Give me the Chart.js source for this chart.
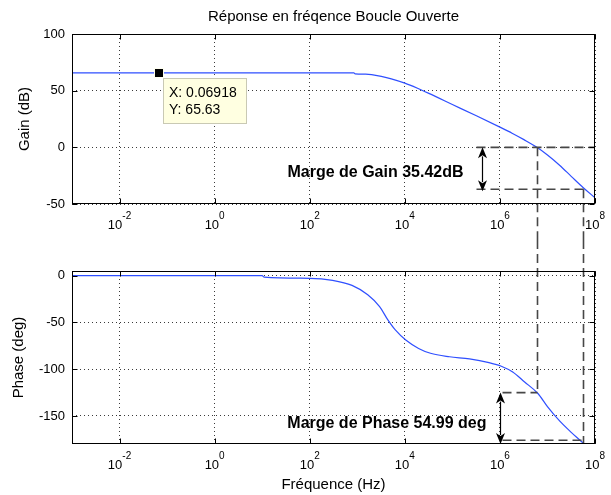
<!DOCTYPE html>
<html><head><meta charset="utf-8">
<script src="https://cdn.jsdelivr.net/npm/chart.js@4/dist/chart.umd.min.js"></script>
<style>
html,body{margin:0;padding:0;background:#fff;}
#wrap{position:relative;width:611px;height:495px;overflow:hidden;background:#fff;}
canvas{position:absolute;left:0;}
#cTop{top:0;} #cBot{top:240px;}
</style></head><body>
<div id="wrap"><canvas id="cTop" width="611" height="240"></canvas><canvas id="cBot" width="611" height="255"></canvas></div>
<script>
// ---- data ----
const gainFreq  = [1e-3, 1e-2, 1e-1, 1, 10, 100, 850, 900, 1500, 2000, 3200, 5200, 1e4, 1.8e4, 3.2e4, 1e5, 3.2e5, 1e6, 1.8e6, 3.2e6, 6e6, 1e7, 1.8e7, 3.2e7, 5.6e7, 1e8];
const gainDb    = [65.63, 65.63, 65.63, 65.63, 65.63, 65.63, 65.63, 64.9, 64.6, 64.2, 62.6, 60.4, 56.6, 52.3, 47.6, 37.8, 27.8, 17.8, 12.5, 6.8, 0, -6.8, -15.8, -25.8, -35.42, -44.5];
const phaseFreq = [1e-3, 1e-1, 10, 11, 100, 302, 776, 1660, 2950, 4365, 6310, 10470, 19500, 34700, 87100, 229000, 589000, 1.07e6, 1.86e6, 3.31e6, 6.3e6, 1e7, 1.78e7, 3.16e7, 5.89e7, 1e8];
const phaseDeg  = [0, 0, 0, -1.6, -2.8, -5, -10.4, -20.4, -33, -47, -58, -68.8, -77.8, -83, -86.7, -89, -93, -96.8, -103, -113.7, -126, -140, -155, -167.5, -180, -192];
const xTickValues = [1e-2, 1e0, 1e2, 1e4, 1e6, 1e8];
const xTickBase   = ['10', '10', '10', '10', '10', '10'];
const xTickExp    = ['-2', '0', '2', '4', '6', '8'];
const gainTicks   = [-50, 0, 50, 100];
const phaseTicks  = [-150, -100, -50, 0];
const dataTip = {x: 0.06918, y: 65.63};
const gainCrossFreq = 6.0e6;     // 0 dB crossing
const phaseCrossFreq = 5.6e7;    // -180 deg crossing
const gainMarginDb = 35.42;
const phaseMarginDeg = 54.99;
const gainArrowFreq = 4.2e5;
const phaseArrowFreq = 1.0e6;
const xMin = 1e-3, xMax = 1e8;

const FAM = "'Liberation Sans', Arial, Helvetica, sans-serif";
Chart.defaults.font.family = FAM;
Chart.defaults.color = '#000';

const GRID = '#3a3a3a';
const DASH = '#474747';

function xScale(h, title) {
  return {
    type: 'logarithmic', min: xMin, max: xMax,
    afterBuildTicks: s => { s.ticks = xTickValues.map(v => ({value: v})); },
    ticks: {display: false},
    grid: {color: GRID, lineWidth: 1, drawTicks: false},
    border: {display: false, dash: [1, 3]},
    title: title ? {display: true, text: title, font: {size: 15}, color: '#000', padding: {top: 0, bottom: 1}} : {display: false},
    afterFit: s => { s.height = h; }
  };
}
function yScale(min, max, ticks, title, tpad) {
  return {
    min: min, max: max,
    afterBuildTicks: s => { s.ticks = ticks.map(v => ({value: v})); },
    ticks: {font: {size: 13}, color: '#000', padding: 7},
    grid: {color: GRID, lineWidth: 1, drawTicks: false},
    border: {display: false, dash: [1, 3]},
    title: {display: true, text: title, font: {size: 15}, color: '#000', padding: {top: tpad, bottom: 0}},
    afterFit: s => { s.width = 72; }
  };
}

const framePlugin = {
  id: 'frame',
  afterDraw(chart) {
    const {ctx, chartArea: a, scales: {x, y}} = chart;
    ctx.save();
    ctx.setLineDash([]);
    ctx.strokeStyle = '#000'; ctx.lineWidth = 1;
    const L = Math.round(a.left) + 0.5, R = Math.round(a.right) - 0.5, T = Math.round(a.top) + 0.5, B = Math.round(a.bottom) - 0.5;
    ctx.strokeRect(L, T, R - L, B - T);
    ctx.beginPath();
    x.ticks.forEach(t => { const px = Math.round(x.getPixelForValue(t.value)) + 0.5; ctx.moveTo(px, T); ctx.lineTo(px, T + 5); ctx.moveTo(px, B); ctx.lineTo(px, B - 5); });
    y.ticks.forEach(t => { const py = Math.round(y.getPixelForValue(t.value)) + 0.5; ctx.moveTo(L, py); ctx.lineTo(L + 5, py); ctx.moveTo(R, py); ctx.lineTo(R - 5, py); });
    ctx.stroke();
    // x tick labels with superscript exponent
    ctx.fillStyle = '#000'; ctx.textBaseline = 'alphabetic'; ctx.textAlign = 'left';
    xTickValues.forEach((v, i) => {
      const px = x.getPixelForValue(v);
      ctx.font = '13px ' + FAM; const wb = ctx.measureText(xTickBase[i]).width;
      ctx.font = '10px ' + FAM; const we = ctx.measureText(xTickExp[i]).width;
      const sx = px - (wb + we) / 2;
      ctx.font = '13px ' + FAM; ctx.fillText(xTickBase[i], sx, a.bottom + 25);
      ctx.font = '10px ' + FAM; ctx.fillText(xTickExp[i], sx + wb, a.bottom + 15);
    });
    ctx.restore();
  }
};

function dashed(ctx, x1, y1, x2, y2) {
  ctx.save(); ctx.setLineDash([9, 5]); ctx.strokeStyle = DASH; ctx.lineWidth = 1.6;
  ctx.beginPath(); ctx.moveTo(x1, y1); ctx.lineTo(x2, y2); ctx.stroke(); ctx.restore();
}
function arrow(ctx, x, y1, y2) {
  const hw = 4.5, hl = 11;
  ctx.save(); ctx.setLineDash([]); ctx.strokeStyle = '#000'; ctx.fillStyle = '#000'; ctx.lineWidth = 1.2;
  ctx.beginPath(); ctx.moveTo(x, y1 + hl - 2); ctx.lineTo(x, y2 - hl + 2); ctx.stroke();
  ctx.beginPath(); ctx.moveTo(x, y1); ctx.lineTo(x - hw, y1 + hl); ctx.lineTo(x, y1 + hl - 3); ctx.lineTo(x + hw, y1 + hl); ctx.closePath(); ctx.fill();
  ctx.beginPath(); ctx.moveTo(x, y2); ctx.lineTo(x - hw, y2 - hl); ctx.lineTo(x, y2 - hl + 3); ctx.lineTo(x + hw, y2 - hl); ctx.closePath(); ctx.fill();
  ctx.restore();
}

const topAnnot = {
  id: 'topAnnot',
  afterDatasetsDraw(chart) {
    const {ctx, chartArea: a, scales: {x, y}} = chart;
    const xg = Math.round(x.getPixelForValue(gainCrossFreq)) + 0.5;
    const xp = Math.round(x.getPixelForValue(phaseCrossFreq)) + 0.5;
    const xa = Math.round(x.getPixelForValue(gainArrowFreq)) + 0.5;
    const y0 = y.getPixelForValue(0), ygm = y.getPixelForValue(-gainMarginDb - 1.5);
    dashed(ctx, xa - 6, y0, a.right, y0);
    dashed(ctx, xa - 6, ygm, xp, ygm);
    dashed(ctx, xg, y0, xg, chart.height);
    dashed(ctx, xp, ygm, xp, chart.height);
    arrow(ctx, xa, y0, ygm + 2);
    ctx.save();
    ctx.font = 'bold 16px ' + FAM; ctx.fillStyle = '#000'; ctx.textAlign = 'right'; ctx.textBaseline = 'middle';
    ctx.fillText('Marge de Gain ' + gainMarginDb.toFixed(2) + 'dB', xa - 19, (y0 + ygm) / 2 + 4);
    ctx.restore();
  },
  afterDraw(chart) {
    const {ctx, scales: {x, y}} = chart;
    const mx = Math.round(x.getPixelForValue(dataTip.x)), my = Math.round(y.getPixelForValue(dataTip.y));
    ctx.save();
    const bx = mx + 4, by = my + 5;
    ctx.fillStyle = '#ffffe1'; ctx.fillRect(bx, by, 84, 46);
    ctx.strokeStyle = '#c9c9b4'; ctx.lineWidth = 1; ctx.strokeRect(bx + 0.5, by + 0.5, 83, 45);
    ctx.fillStyle = '#fffff0'; ctx.fillRect(mx - 5, my - 5, 10, 10);
    ctx.fillStyle = '#000'; ctx.fillRect(mx - 4, my - 4, 8, 8);
    ctx.font = '14px ' + FAM; ctx.textAlign = 'left'; ctx.textBaseline = 'alphabetic';
    ctx.fillText('X: ' + dataTip.x, mx + 10, my + 24);
    ctx.fillText('Y: ' + dataTip.y, mx + 10, my + 41);
    ctx.restore();
  }
};

const botAnnot = {
  id: 'botAnnot',
  afterDatasetsDraw(chart) {
    const {ctx, chartArea: a, scales: {x, y}} = chart;
    const xg = Math.round(x.getPixelForValue(gainCrossFreq)) + 0.5;
    const xp = Math.round(x.getPixelForValue(phaseCrossFreq)) + 0.5;
    const xa = Math.round(x.getPixelForValue(phaseArrowFreq)) + 0.5;
    const yp = y.getPixelForValue(-180 + phaseMarginDeg), yb = y.getPixelForValue(-176);
    dashed(ctx, xg, 0, xg, yp);
    dashed(ctx, xp, 0, xp, a.bottom);
    dashed(ctx, xa + 2, yp, xg, yp);
    dashed(ctx, xa + 2, yb, xp, yb);
    arrow(ctx, xa, yp, a.bottom);
    ctx.save();
    ctx.font = 'bold 16px ' + FAM; ctx.fillStyle = '#000'; ctx.textAlign = 'right'; ctx.textBaseline = 'middle';
    ctx.fillText('Marge de Phase ' + phaseMarginDeg.toFixed(2) + ' deg', xa - 14, (yp + a.bottom) / 2 + 5);
    ctx.restore();
  }
};

const LINE = '#2f4fff';

new Chart(document.getElementById('cTop'), {
  type: 'line',
  data: {datasets: [{data: gainFreq.map((f, i) => ({x: f, y: gainDb[i]})), borderColor: LINE, borderWidth: 1.2, pointRadius: 0, cubicInterpolationMode: 'monotone', fill: false}]},
  options: {
    responsive: false, animation: false, devicePixelRatio: 1,
    layout: {padding: {left: 0, right: 16, top: 0, bottom: 0}},
    plugins: {
      legend: {display: false}, tooltip: {enabled: false},
      title: {display: true, text: 'Réponse en fréqence Boucle Ouverte', fullSize: false, font: {size: 15, weight: 'normal'}, color: '#000', padding: {top: 8, bottom: 8}}
    },
    scales: {x: xScale(36, null), y: yScale(-50, 100, gainTicks, 'Gain (dB)', 16)}
  },
  plugins: [topAnnot, framePlugin]
});

new Chart(document.getElementById('cBot'), {
  type: 'line',
  data: {datasets: [{data: phaseFreq.map((f, i) => ({x: f, y: phaseDeg[i]})), borderColor: LINE, borderWidth: 1.2, pointRadius: 0, cubicInterpolationMode: 'monotone', fill: false}]},
  options: {
    responsive: false, animation: false, devicePixelRatio: 1,
    layout: {padding: {left: 0, right: 16, top: 31, bottom: 0}},
    plugins: {legend: {display: false}, tooltip: {enabled: false}},
    scales: {x: xScale(51, 'Fréquence (Hz)'), y: yScale(-180, 5, phaseTicks, 'Phase (deg)', 10)}
  },
  plugins: [botAnnot, framePlugin]
});
</script>
</body></html>
